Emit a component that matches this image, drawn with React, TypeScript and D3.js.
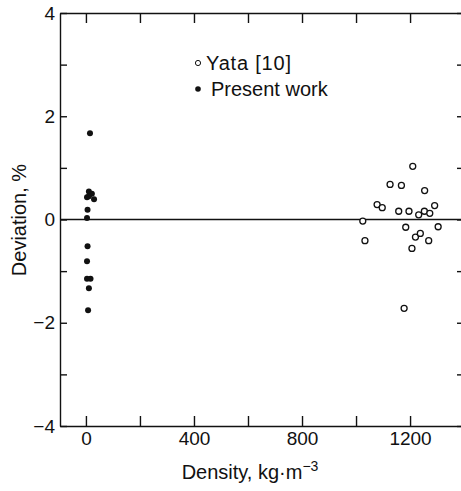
import * as d3 from "d3";
import React, { useEffect, useRef } from "react";

// Present work (filled dots): density, deviation %
const presentDensity = [15, 11, 4, 22, 30, 6, 4, 6, 4, 4, 17, 11, 8, 11];
const presentDeviation = [1.67, 0.54, 0.43, 0.5, 0.39, 0.19, 0.03, -0.52, -0.81, -1.15, -1.15, -1.33, -1.76, 0.45];

// Yata [10] (open circles)
const yataDensity = [
  1210, 1126, 1168, 1254, 1078, 1097, 1158, 1196, 1232, 1253, 1273, 1291, 1025, 1184, 1304, 1220, 1238,
  1269, 1033, 1207, 1178,
];
const yataDeviation = [
  1.03, 0.68, 0.66, 0.56, 0.29, 0.23, 0.16, 0.16, 0.09, 0.16, 0.12, 0.27, -0.03, -0.15, -0.14, -0.34,
  -0.27, -0.41, -0.41, -0.56, -1.72,
];

const xTicks = [0, 200, 400, 600, 800, 1000, 1200];
const yTicks = [-4, -3, -2, -1, 0, 1, 2, 3, 4];

const FONT = "'Liberation Sans', Arial, sans-serif";

export default function App() {
  const ref = useRef<SVGSVGElement>(null);

  useEffect(() => {
    const svg = d3.select(ref.current);
    svg.selectAll("*").remove();

    const x = d3.scaleLinear().domain([-96, 1396]).range([60, 463]);
    const y = d3.scaleLinear().domain([-4, 4]).range([426, 13]);

    const fmt = (d: number) => d3.format("")(d).replace("-", "\u2212");

    // bottom axis
    const bottom = svg
      .append("g")
      .attr("transform", `translate(0,${y(-4)})`)
      .call(
        d3
          .axisBottom(x)
          .tickValues(xTicks)
          .tickSizeInner(-10)
          .tickSizeOuter(0)
          .tickPadding(6)
          .tickFormat((d) => ((d as number) % 400 === 0 ? fmt(d as number) : ""))
      );

    // top axis
    const top = svg
      .append("g")
      .attr("transform", `translate(0,${y(4)})`)
      .call(d3.axisTop(x).tickValues(xTicks).tickSizeInner(-10).tickSizeOuter(0).tickFormat(() => ""));

    // left axis
    const left = svg
      .append("g")
      .attr("transform", `translate(${x(-96)},0)`)
      .call(
        d3
          .axisLeft(y)
          .tickValues(yTicks)
          .tickSizeInner(-7)
          .tickSizeOuter(0)
          .tickPadding(5)
          .tickFormat((d) => ((d as number) % 2 === 0 ? fmt(d as number) : ""))
      );

    // right axis
    const right = svg
      .append("g")
      .attr("transform", `translate(${x(1396)},0)`)
      .call(d3.axisRight(y).tickValues(yTicks).tickSizeInner(-6).tickSizeOuter(0).tickFormat(() => ""));

    [bottom, top, left, right].forEach((g) => {
      g.selectAll("path, line").attr("stroke", "#111").attr("stroke-width", 1.4);
      g.selectAll("text").attr("font-family", FONT).attr("font-size", 19).attr("fill", "#111");
    });

    // zero line
    svg
      .append("line")
      .attr("x1", x(-96))
      .attr("x2", x(1396))
      .attr("y1", y(0))
      .attr("y2", y(0))
      .attr("stroke", "#111")
      .attr("stroke-width", 1.5);

    // present work
    svg
      .append("g")
      .selectAll("circle")
      .data(presentDensity.map((d, i) => [d, presentDeviation[i]]))
      .join("circle")
      .attr("cx", (d) => x(d[0]))
      .attr("cy", (d) => y(d[1]))
      .attr("r", 3)
      .attr("fill", "#111");

    // Yata
    svg
      .append("g")
      .selectAll("circle")
      .data(yataDensity.map((d, i) => [d, yataDeviation[i]]))
      .join("circle")
      .attr("cx", (d) => x(d[0]))
      .attr("cy", (d) => y(d[1]))
      .attr("r", 3)
      .attr("fill", "white")
      .attr("stroke", "#111")
      .attr("stroke-width", 1.3);

    // legend
    const legend = svg.append("g").attr("font-family", FONT).attr("font-size", 20).attr("fill", "#111");
    legend.append("circle").attr("cx", 198).attr("cy", 63).attr("r", 2.6).attr("fill", "white").attr("stroke", "#111").attr("stroke-width", 1);
    legend.append("text").attr("x", 206).attr("y", 70).attr("letter-spacing", 0.8).text("Yata [10]");
    legend.append("circle").attr("cx", 198).attr("cy", 89).attr("r", 2.8).attr("fill", "#111");
    legend.append("text").attr("x", 211).attr("y", 96).text("Present work");

    // axis titles
    const xt = svg
      .append("text")
      .attr("x", 250)
      .attr("y", 479)
      .attr("text-anchor", "middle")
      .attr("font-family", FONT)
      .attr("font-size", 20)
      .attr("fill", "#111");
    xt.append("tspan").text("Density, kg\u00b7m");
    xt.append("tspan").attr("dy", -8).attr("font-size", 14).text("\u22123");

    svg
      .append("text")
      .attr("transform", `translate(26,220) rotate(-90)`)
      .attr("text-anchor", "middle")
      .attr("font-family", FONT)
      .attr("font-size", 20)
      .attr("fill", "#111")
      .text("Deviation, %");
  }, []);

  return (
    <svg
      ref={ref}
      width={461}
      height={491}
      style={{ position: "absolute", left: 0, top: 0, background: "white" }}
    />
  );
}
